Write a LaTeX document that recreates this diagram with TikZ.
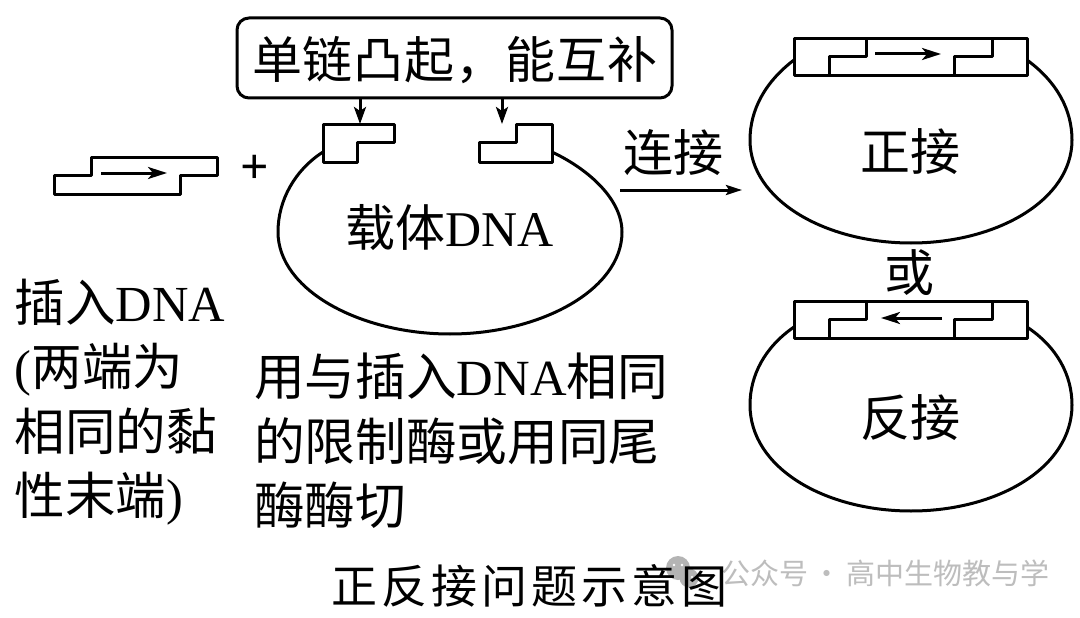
\documentclass[tikz,border=0pt]{standalone}
\usepackage{fontspec}
\usetikzlibrary{arrows.meta}
\setmainfont{Liberation Serif}
\newfontfamily\cjk{Noto Sans CJK SC}
\newfontfamily\cjkb[LetterSpace=1.5]{Noto Sans CJK SC}
\newfontfamily\cjkt[LetterSpace=9]{Noto Sans CJK SC}
\newcommand{\Z}[1]{{\cjk #1}}
\newcommand{\La}[1]{{#1}}
\tikzset{
  line/.style={draw=black,line width=3pt,line join=round},
  piece/.style={line,fill=white},
  txt/.style={inner sep=0pt,outer sep=0pt,anchor=west,align=left,font=\fontsize{50}{64.5}\selectfont},
  big/.style={line,-{Stealth[length=19pt,width=12pt,inset=5pt]}},
  small/.style={line,-{Stealth[length=17pt,width=12pt,inset=4pt]}}
}
\definecolor{wm}{HTML}{BDBDBD}
\definecolor{wmlogo}{HTML}{B4B4B4}
\begin{document}
\begin{tikzpicture}[x=1pt,y=-1pt]
\useasboundingbox (0,0) rectangle (1080,618);
\fill[white] (0,0) rectangle (1080,618);
% insert
\draw[line] (54,175)--(91,175)--(91,157)--(217,157)--(217,175)--(180,175)--(180,194)--(54,194)--cycle;
\coordinate (ins1) at (101,173); \coordinate (ins2) at (167,173);
\draw[big] (ins1)--(ins2);
\node[txt,anchor=center,font=\bfseries\fontsize{50}{50}\selectfont] (plus) at (255,169) {+};
% callout
\node[line,rounded corners=12pt,minimum width=435pt,minimum height=80pt,inner sep=0pt] (box) at (454.5,58) {};
\node[txt] (boxtxt) at (252,60) {\cjkb 单链凸起，能互补};
\coordinate (t1) at (360,124); \coordinate (t2) at (502,124);
\draw[small] (box.south -| t1)--(t1);
\draw[small] (box.south -| t2)--(t2);
% vector
\draw[line] (323,152) .. controls (295,170) and (278,200) .. (278,232)
  .. controls (278,290) and (360,334) .. (450,334)
  .. controls (540,334) and (622,290) .. (622,232)
  .. controls (622,200) and (590,170) .. (552,152);
\draw[piece] (323,124)--(394,124)--(394,142)--(357,142)--(357,162)--(323,162)--cycle;
\draw[piece] (479,142)--(516,142)--(516,124)--(552,124)--(552,162)--(479,162)--cycle;
\node[txt] (vec) at (345,228) {\Z{载体}\La{DNA}};
% ligate arrow
\coordinate (l1) at (620,190); \coordinate (l2) at (742,190);
\draw[line,-{Stealth[length=16pt,width=10pt,inset=3pt]}] (l1)--(l2);
\node[txt] (lig) at (623,153) {\cjk 连接};
% forward
\draw[line] (794,60) .. controls (765,82) and (750,110) .. (750,140)
  .. controls (750,200) and (825,243) .. (911,243)
  .. controls (997,243) and (1072,200) .. (1072,140)
  .. controls (1072,110) and (1057,82) .. (1027,60);
\draw[piece] (794,39) rectangle (1027,76);
\draw[line] (829,76)--(829,57)--(866,57)--(866,39);
\draw[line] (954,76)--(954,57)--(992,57)--(992,39);
\coordinate (f1) at (875,54); \coordinate (f2) at (941,54);
\draw[big] (f1)--(f2);
\node[txt] (zj) at (860,152) {\cjk 正接};
\node[txt,anchor=center] (huo) at (909,273) {\Z{或}};
% reverse
\draw[line] (794,327) .. controls (765,347) and (750,375) .. (750,405)
  .. controls (750,468) and (825,511) .. (911,511)
  .. controls (997,511) and (1072,468) .. (1072,405)
  .. controls (1072,375) and (1057,347) .. (1027,327);
\draw[piece] (794,301) rectangle (1027,338);
\draw[line] (829,338)--(829,319)--(866,319)--(866,301);
\draw[line] (954,338)--(954,319)--(992,319)--(992,301);
\coordinate (r1) at (942,318); \coordinate (r2) at (881,318);
\draw[big] (r1)--(r2);
\node[txt] (fj) at (860,418) {\cjk 反接};
% left texts
\node[txt,anchor=north west,font=\fontsize{50.5}{64.5}\selectfont] (left) at (15,279) {\Z{插入}\La{DNA}\\\La{(}\Z{两端为}\\\Z{相同的黏}\\\Z{性末端}\La{)}};
\node[txt,anchor=north west,font=\fontsize{50.7}{64.5}\selectfont] (mid) at (254,353) {\Z{用与插入}\La{DNA}\Z{相同}\\\Z{的限制酶或用同尾}\\\Z{酶酶切}};
% watermark
\fill[wmlogo] (678,568) circle (12pt);
\fill[wmlogo] (689,578) circle (9.5pt);
\fill[white] (674,565) circle (1.4pt) (682,565) circle (1.4pt) (686,577) circle (1.1pt) (692,577) circle (1.1pt);
\node[txt,text=wm,font=\fontsize{29}{32}\selectfont] (wmk) at (721,573) {\cjk 公众号\hspace{5pt}·\hspace{5pt}高中生物教与学};
% title
\node[txt] (title) at (331,586) {\fontsize{46}{50}\selectfont\cjkt 正反接问题示意图};
\end{tikzpicture}
\end{document}
